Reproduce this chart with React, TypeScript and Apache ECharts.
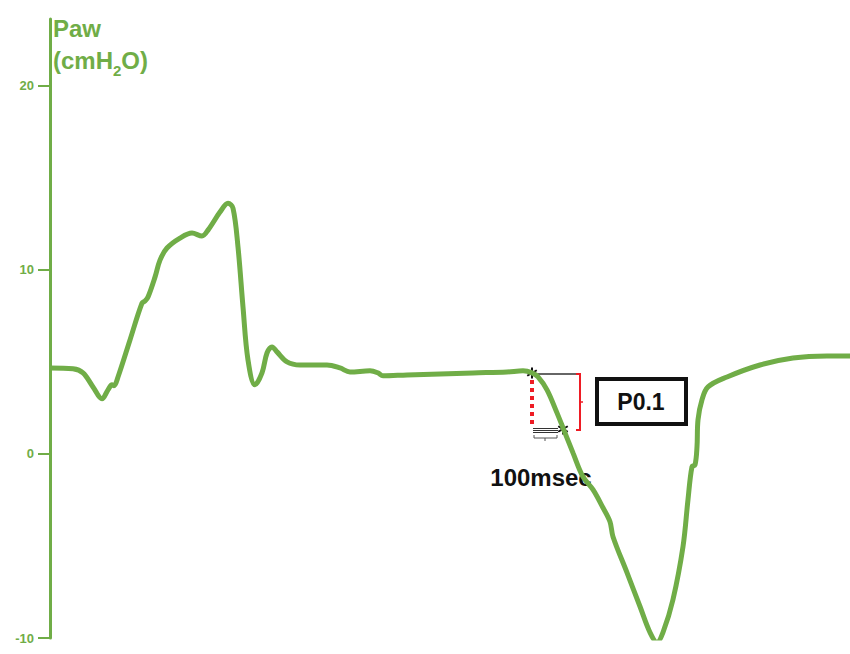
import React, { useEffect, useRef } from "react";
import * as echarts from "echarts";

// time axis (arbitrary units, one unit per screen step) and airway pressure (cmH2O)
const timeValues = [
  0, 23, 33, 43, 52, 58, 62, 64, 68, 80, 92, 95, 98, 105, 110, 117, 130, 142, 152, 158,
  170, 178, 183, 188, 193, 198, 205, 212, 217, 222, 227, 237, 250, 277, 290, 300, 320, 328,
  333, 357, 423, 457, 473, 482, 488, 497, 507, 513, 523, 533, 543, 553, 560, 563, 577, 590,
  600, 607, 613, 623, 633, 638, 642, 645, 647, 648, 652, 658, 677, 710, 743, 777, 800,
];
const pawValues = [
  4.66, 4.61, 4.39, 3.63, 2.98, 3.47, 3.74, 3.69, 4.17, 6.18, 8.18, 8.29, 8.51, 9.59, 10.51,
  11.17, 11.71, 11.98, 11.82, 12.14, 13.12, 13.6, 13.33, 11.22, 7.97, 5.09, 3.74, 4.39, 5.47,
  5.8, 5.53, 4.99, 4.82, 4.82, 4.66, 4.44, 4.5, 4.39, 4.23, 4.28, 4.39, 4.44, 4.5, 4.39, 4.17,
  3.47, 2.22, 1.41, 0.05, -1.25, -1.95, -2.93, -3.69, -4.5, -6.45, -8.29, -9.7, -10.24, -9.7,
  -7.91, -5.04, -2.49, -0.7, -0.6, 0.38, 1.84, 2.93, 3.63, 4.17, 4.82, 5.2, 5.31, 5.31,
];
const yTicks = [-10, 0, 10, 20];

const GREEN = "#70ad47";
const RED = "#ee1c24";
const FONT = "'Liberation Sans', Arial, sans-serif";

export default function App() {
  const ref = useRef<HTMLDivElement>(null);
  useEffect(() => {
    document.body.style.margin = "0";
    if (!ref.current) return;
    const chart = echarts.init(ref.current, undefined, { renderer: "svg" });
    const data = timeValues.map((t, i) => [t, pawValues[i]]);
    const star = (cx: number, cy: number) => {
      const r = 5.5;
      const children = [90, 30, 150].map((deg) => {
        const a = (deg * Math.PI) / 180;
        return {
          type: "line",
          shape: {
            x1: cx - r * Math.cos(a),
            y1: cy - r * Math.sin(a),
            x2: cx + r * Math.cos(a),
            y2: cy + r * Math.sin(a),
          },
          style: { stroke: "#111", lineWidth: 2 },
        };
      });
      return { type: "group", children };
    };
    chart.setOption({
      animation: false,
      grid: { left: 50, right: 0, top: 19, bottom: 16 },
      xAxis: {
        type: "value",
        min: 0,
        max: 800,
        show: false,
      },
      yAxis: {
        type: "value",
        min: yTicks[0],
        max: 23.6,
        interval: 10,
        axisLine: { show: true, lineStyle: { color: GREEN, width: 3 } },
        axisTick: {
          show: true,
          length: 12,
          customValues: yTicks,
          lineStyle: { color: GREEN, width: 2 },
        },
        axisLabel: {
          color: GREEN,
          fontWeight: "bold",
          fontSize: 13,
          fontFamily: "Liberation Sans, Arial, sans-serif",
          margin: 16,
          customValues: yTicks,
        },
        splitLine: { show: false },
      },
      series: [
        {
          type: "line",
          data,
          smooth: 0.35,
          showSymbol: false,
          lineStyle: { color: GREEN, width: 5 },
        },
      ],
      graphic: [
        {
          type: "text",
          left: 53,
          top: 12,
          style: {
            text: "Paw\n(cmH{s|2}O)",
            fill: GREEN,
            font: `bold 24px ${FONT}`,
            lineHeight: 32,
            rich: {
              s: {
                fill: GREEN,
                fontSize: 15,
                fontWeight: "bold",
                fontFamily: "Liberation Sans, Arial, sans-serif",
                verticalAlign: "bottom",
                lineHeight: 32,
                padding: [0, 0, -2, 0],
              },
            },
          },
        },
        // red dotted vertical line (pressure drop)
        {
          type: "line",
          shape: { x1: 532, y1: 380, x2: 532, y2: 428 },
          style: { stroke: RED, lineWidth: 4, lineDash: [4, 4] },
        },
        // black horizontal reference line
        {
          type: "line",
          shape: { x1: 538, y1: 374, x2: 577, y2: 374 },
          style: { stroke: "#333", lineWidth: 1.5 },
        },
        // red bracket
        {
          type: "polyline",
          shape: { points: [[576, 374], [580, 374], [580, 430], [576, 430]] },
          style: { stroke: RED, lineWidth: 2, fill: null },
        },
        {
          type: "line",
          shape: { x1: 580, y1: 402, x2: 583, y2: 402 },
          style: { stroke: RED, lineWidth: 1.5 },
        },
        // triple lines at 100 msec
        { type: "line", shape: { x1: 533, y1: 428.5, x2: 558, y2: 428.5 }, style: { stroke: "#333", lineWidth: 1 } },
        { type: "line", shape: { x1: 533, y1: 430.5, x2: 558, y2: 430.5 }, style: { stroke: "#333", lineWidth: 1 } },
        { type: "line", shape: { x1: 533, y1: 432.5, x2: 558, y2: 432.5 }, style: { stroke: "#333", lineWidth: 1 } },
        // small bracket below
        {
          type: "polyline",
          shape: { points: [[534, 435], [534, 438], [557, 438], [557, 435]] },
          style: { stroke: "#555", lineWidth: 1, fill: null },
        },
        { type: "line", shape: { x1: 545, y1: 438, x2: 545, y2: 441 }, style: { stroke: "#555", lineWidth: 1 } },
        // stars
        star(532, 373),
        star(563, 429),
        {
          type: "text",
          x: 541,
          y: 477,
          style: {
            text: "100msec",
            fill: "#111",
            font: `bold 24px ${FONT}`,
            align: "center",
            verticalAlign: "middle",
          },
        },
        // P0.1 box
        {
          type: "rect",
          shape: { x: 597, y: 379, width: 89, height: 45 },
          style: { stroke: "#111", lineWidth: 4, fill: "#fff" },
        },
        {
          type: "text",
          x: 641,
          y: 402,
          style: {
            text: "P0.1",
            fill: "#111",
            font: `bold 23px ${FONT}`,
            align: "center",
            verticalAlign: "middle",
          },
        },
      ],
    });
    return () => chart.dispose();
  }, []);
  return <div ref={ref} style={{ width: 850, height: 654 }} />;
}
